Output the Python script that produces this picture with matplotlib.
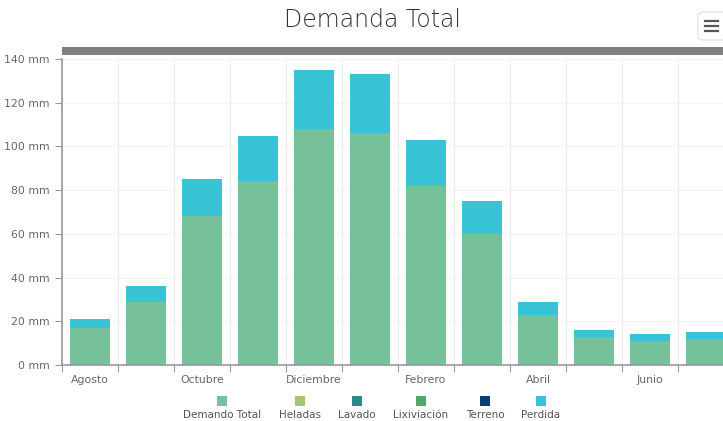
import numpy as np
import matplotlib.pyplot as plt
from matplotlib.patches import Rectangle, FancyBboxPatch

meses = ['Agosto', 'Septiembre', 'Octubre', 'Noviembre', 'Diciembre', 'Enero',
         'Febrero', 'Marzo', 'Abril', 'Mayo', 'Junio', 'Julio']
demanda = [17, 29, 68, 84, 108, 106, 82, 60, 23, 13, 11, 12]
perdida = [4, 7, 17, 21, 27, 27, 21, 15, 6, 3, 3, 3]

series = ['Demando Total', 'Heladas', 'Lavado', 'Lixiviación', 'Terreno', 'Perdida']
colores = ['#76c09a', '#a9c46e', '#2a8a86', '#5aa46a', '#0d3d6b', '#38c4d4']

W, H = 723, 421
fig = plt.figure(figsize=(W / 100, H / 100), dpi=100)
ax = fig.add_axes([62 / W, 56 / H, 672 / W, 306 / H])

x = np.arange(len(meses))
ax.bar(x, demanda, width=0.71, color=colores[0], zorder=2)
ax.bar(x, perdida, width=0.71, bottom=demanda, color=colores[5], zorder=2)

ax.set_xlim(-0.5, len(meses) - 0.5)
ax.set_ylim(0, 140)
ax.set_yticks(range(0, 141, 20))
ax.set_yticklabels([f'{v} mm' for v in range(0, 141, 20)])

# ticks at category boundaries, labels at every other category
ax.set_xticks(np.arange(-0.5, len(meses), 1))
ax.set_xticklabels([])
ax.set_xticks(x[::2], minor=True)
ax.set_xticklabels(meses[::2], minor=True)
ax.tick_params(axis='x', which='minor', length=0, pad=7)
ax.tick_params(axis='x', which='major', length=5, color='#999999')
ax.tick_params(axis='y', length=5, color='#999999', pad=4)
ax.tick_params(which='both', labelsize=7.8, labelcolor='#666666')

ax.grid(axis='x', which='major', color='#ececec', linewidth=0.8, zorder=0)
ax.grid(axis='y', color='#f4f4f4', linewidth=0.8, zorder=0)
for s in ['top', 'right']:
    ax.spines[s].set_visible(False)
for s in ['left', 'bottom']:
    ax.spines[s].set_color('#999999')
    ax.spines[s].set_linewidth(1.2)

# gray band above plot
fig.add_artist(Rectangle((62 / W, (421 - 55) / H), 1, 8 / H, transform=fig.transFigure,
                         color='#808080', lw=0))

fig.text(372 / W, 1 - 20 / H, 'Demanda Total', ha='center', va='center',
         fontsize=17, color='#333333', fontweight='light')

# menu button
fig.add_artist(FancyBboxPatch((698 / W, 1 - 40 / H), 30 / W, 28 / H,
                              boxstyle='round,pad=0,rounding_size=0.008',
                              transform=fig.transFigure, fc='white', ec='#dddddd', lw=0.8))
for dy in [-5, 0, 5]:
    fig.add_artist(plt.Line2D([705 / W, 718 / W], [(1 - (26 + dy) / H)] * 2,
                              transform=fig.transFigure, color='#555555', lw=1.6))

# legend
lx = [222, 300, 357, 421, 485, 541]
for xi, nombre, c in zip(lx, series, colores):
    fig.add_artist(Rectangle(((xi - 5) / W, 1 - 406 / H), 10 / W, 10 / H,
                             transform=fig.transFigure, color=c, lw=0))
    fig.text(xi / W, 1 - 415 / H, nombre, ha='center', va='center', fontsize=7.5,
             color='#555555')

fig.savefig('out.png', dpi=100)
